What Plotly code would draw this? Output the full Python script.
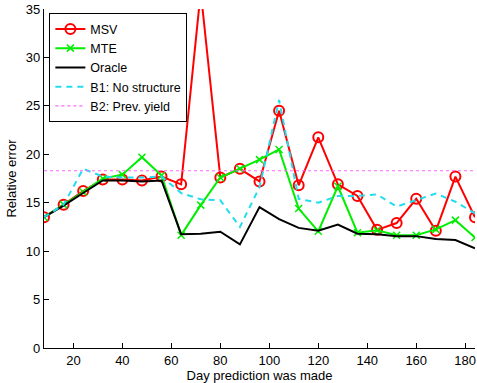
import plotly.graph_objects as go

days = [8, 16, 24, 32, 40, 48, 56, 64, 72, 80, 88, 96, 104, 112, 120, 128, 136, 144, 152, 160, 168, 176, 184]
msv = [13.5, 14.8, 16.2, 17.4, 17.4, 17.3, 17.7, 16.9, 36.8, 17.6, 18.5, 17.2, 24.5, 16.8, 21.75, 16.9, 15.7, 12.2, 12.9, 15.4, 12.1, 17.7, 13.5]
mte = [13.5, 14.8, 16.1, 17.5, 17.9, 19.7, 17.8, 11.65, 14.75, 17.6, 18.5, 19.45, 20.5, 14.4, 12.05, 16.7, 11.9, 12.15, 11.65, 11.65, 12.25, 13.2, 11.4]
oracle = [13.5, 14.7, 16.0, 17.3, 17.3, 17.2, 17.3, 11.75, 11.8, 12.0, 10.7, 14.55, 13.3, 12.4, 12.1, 12.75, 11.8, 11.75, 11.55, 11.55, 11.25, 11.15, 10.3]
b1 = [13.5, 14.8, 18.5, 17.7, 17.6, 17.6, 17.7, 16.0, 15.35, 15.25, 12.5, 16.6, 25.6, 15.4, 15.0, 15.7, 15.7, 15.85, 14.6, 15.3, 15.95, 15.1, 13.9]
b2_value = 18.3
b2 = [b2_value] * len(days)

font = dict(family="Liberation Sans, Arial, sans-serif", size=13, color="black")

fig = go.Figure()
fig.add_trace(go.Scatter(x=days, y=msv, name="MSV", mode="lines+markers",
                         line=dict(color="#ff0000", width=2),
                         marker=dict(symbol="circle-open", size=10, color="#ff0000", line=dict(width=2))))
fig.add_trace(go.Scatter(x=days, y=mte, name="MTE", mode="lines+markers",
                         line=dict(color="#00ee00", width=2),
                         marker=dict(symbol="x-thin-open", size=7, color="#00ee00", line=dict(width=1.5, color="#00ee00"))))
fig.add_trace(go.Scatter(x=days, y=oracle, name="Oracle", mode="lines",
                         line=dict(color="black", width=2)))
fig.add_trace(go.Scatter(x=days, y=b1, name="B1: No structure", mode="lines",
                         line=dict(color="#22ddee", width=2, dash="6px,5px")))
fig.add_trace(go.Scatter(x=days, y=b2, name="B2: Prev. yield", mode="lines",
                         line=dict(color="#ff66ff", width=1.2, dash="dot")))

fig.update_layout(
    width=477, height=383,
    margin=dict(l=44, r=2, t=9, b=35),
    paper_bgcolor="white", plot_bgcolor="white",
    font=font,
    showlegend=True,
    legend=dict(x=0.012, y=0.988, xanchor="left", yanchor="top",
                bgcolor="white", bordercolor="black", borderwidth=1.2,
                font=dict(family="Liberation Sans, Arial, sans-serif", size=12.5),
                tracegroupgap=0, itemwidth=30),
    xaxis=dict(range=[8, 184], tickvals=[20, 40, 60, 80, 100, 120, 140, 160, 180],
               showline=True, linecolor="black", linewidth=1.2, ticks="inside", ticklen=5,
               tickcolor="black", showgrid=False, zeroline=False,
               title=dict(text="Day prediction was made", standoff=2, font=dict(size=13))),
    yaxis=dict(range=[0, 35], tickvals=[0, 5, 10, 15, 20, 25, 30, 35],
               showline=True, linecolor="black", linewidth=1.2, ticks="inside", ticklen=5,
               tickcolor="black", showgrid=False, zeroline=False,
               title=dict(text="Relative error", standoff=6, font=dict(size=13))),
)

fig.write_html("out.html")
